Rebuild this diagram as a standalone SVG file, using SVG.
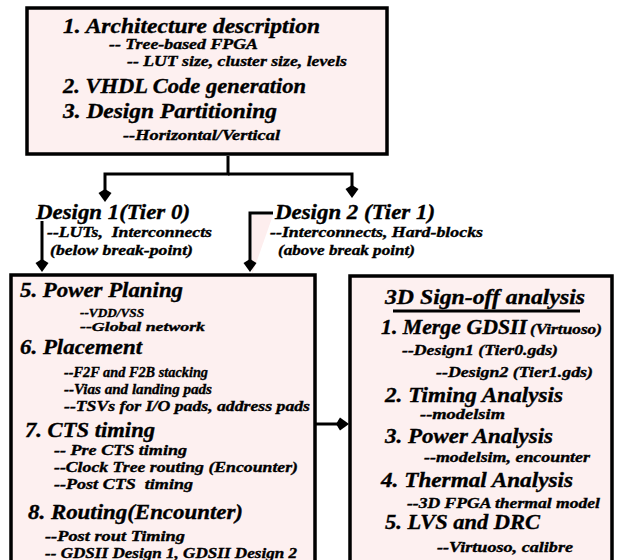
<svg xmlns="http://www.w3.org/2000/svg" width="622" height="560" viewBox="0 0 622 560">
<style>
text{font-family:"Liberation Serif","DejaVu Serif",serif;font-weight:bold;font-style:italic;fill:#000;stroke:#000;stroke-width:0.35;white-space:pre}
.h{font-size:20px}
.s{font-size:14px}
.ss{font-size:12.5px}
.t{font-size:20.5px}
.box{fill:#fdf0f0;stroke:#000;stroke-width:3.5}
.c{fill:none;stroke:#000;stroke-width:3;stroke-linejoin:miter}
</style>
<defs>
<marker id="ah" markerUnits="userSpaceOnUse" markerWidth="20" markerHeight="20" refX="4" refY="7" orient="auto" overflow="visible">
<path d="M0,7 L4,0.5 L13,7 L4,13.5 Z" fill="#000"/>
</marker>
</defs>
<g id="top">
<rect class="box" x="27" y="8" width="360" height="146"/>
<text class="h" x="63" y="33" textLength="257" lengthAdjust="spacingAndGlyphs">1. Architecture description</text>
<text class="s" x="109" y="49" textLength="149" lengthAdjust="spacingAndGlyphs">-- Tree-based FPGA</text>
<text class="s" x="127" y="66" textLength="220" lengthAdjust="spacingAndGlyphs">-- LUT size, cluster size, levels</text>
<text class="h" x="63" y="93" textLength="243" lengthAdjust="spacingAndGlyphs">2. VHDL Code generation</text>
<text class="h" x="63" y="118" textLength="214" lengthAdjust="spacingAndGlyphs">3. Design Partitioning</text>
<text class="s" x="123" y="140" textLength="157" lengthAdjust="spacingAndGlyphs">--Horizontal/Vertical</text>
</g>
<g id="design1">
<text class="h" x="36" y="219" textLength="154" lengthAdjust="spacingAndGlyphs">Design 1(Tier 0)</text>
<text class="s" x="47" y="237" textLength="165" lengthAdjust="spacingAndGlyphs">--LUTs,  Interconnects</text>
<text class="s" x="50" y="255" textLength="143" lengthAdjust="spacingAndGlyphs">(below break-point)</text>
</g>
<g id="design2">
<polygon points="252,215 273,215 252,275" fill="#fdeeee"/>
<text class="h" x="275" y="219" textLength="160" lengthAdjust="spacingAndGlyphs">Design 2 (Tier 1)</text>
<text class="s" x="270" y="237" textLength="213" lengthAdjust="spacingAndGlyphs">--Interconnects, Hard-blocks</text>
<text class="s" x="278" y="255" textLength="137" lengthAdjust="spacingAndGlyphs">(above break point)</text>
</g>
<g id="flow">
<rect class="box" x="11" y="275" width="304" height="300"/>
<text class="h" x="20" y="297" textLength="163" lengthAdjust="spacingAndGlyphs">5. Power Planing</text>
<text class="ss" x="80" y="317" textLength="64" lengthAdjust="spacingAndGlyphs">--VDD/VSS</text>
<text class="ss" x="80" y="331" textLength="125" lengthAdjust="spacingAndGlyphs">--Global network</text>
<text class="h" x="20" y="354" textLength="122" lengthAdjust="spacingAndGlyphs">6. Placement</text>
<text class="s" x="64" y="377" textLength="144" lengthAdjust="spacingAndGlyphs">--F2F and F2B stacking</text>
<text class="s" x="64" y="394" textLength="148" lengthAdjust="spacingAndGlyphs">--Vias and landing pads</text>
<text class="s" x="64" y="411" textLength="246" lengthAdjust="spacingAndGlyphs">--TSVs for I/O pads, address pads</text>
<text class="h" x="25" y="437" textLength="130" lengthAdjust="spacingAndGlyphs">7. CTS timing</text>
<text class="s" x="54" y="455" textLength="133" lengthAdjust="spacingAndGlyphs">-- Pre CTS timing</text>
<text class="s" x="54" y="472" textLength="244" lengthAdjust="spacingAndGlyphs">--Clock Tree routing (Encounter)</text>
<text class="s" x="54" y="489" textLength="139" lengthAdjust="spacingAndGlyphs">--Post CTS  timing</text>
<text class="h" x="28" y="519" textLength="215" lengthAdjust="spacingAndGlyphs">8. Routing(Encounter)</text>
<text class="s" x="45" y="541" textLength="140" lengthAdjust="spacingAndGlyphs">--Post rout Timing</text>
<text class="s" x="45" y="558" textLength="252" lengthAdjust="spacingAndGlyphs">-- GDSII Design 1, GDSII Design 2</text>
</g>
<g id="signoff">
<rect class="box" x="350" y="276" width="262" height="300"/>
<text class="t" x="385" y="304" textLength="200" lengthAdjust="spacingAndGlyphs">3D Sign-off analysis</text>
<line x1="393" y1="311" x2="580" y2="311" stroke="#000" stroke-width="3"/>
<text class="h" x="381" y="334" textLength="146" lengthAdjust="spacingAndGlyphs">1. Merge GDSII</text>
<text class="s" x="530" y="334" textLength="72" lengthAdjust="spacingAndGlyphs">(Virtuoso)</text>
<text class="s" x="402" y="355" textLength="156" lengthAdjust="spacingAndGlyphs">--Design1 (Tier0.gds)</text>
<text class="s" x="436" y="377" textLength="157" lengthAdjust="spacingAndGlyphs">--Design2 (Tier1.gds)</text>
<text class="h" x="385" y="402" textLength="178" lengthAdjust="spacingAndGlyphs">2. Timing Analysis</text>
<text class="s" x="420" y="419" textLength="85" lengthAdjust="spacingAndGlyphs">--modelsim</text>
<text class="h" x="385" y="443" textLength="168" lengthAdjust="spacingAndGlyphs">3. Power Analysis</text>
<text class="s" x="424" y="462" textLength="166" lengthAdjust="spacingAndGlyphs">--modelsim, encounter</text>
<text class="h" x="381" y="487" textLength="192" lengthAdjust="spacingAndGlyphs">4. Thermal Analysis</text>
<text class="s" x="407" y="508" textLength="193" lengthAdjust="spacingAndGlyphs">--3D FPGA thermal model</text>
<text class="h" x="385" y="529" textLength="155" lengthAdjust="spacingAndGlyphs">5. LVS and DRC</text>
<text class="s" x="437" y="552" textLength="136" lengthAdjust="spacingAndGlyphs">--Virtuoso, calibre</text>
</g>
<g id="connectors">
<path class="c" d="M228,156 V174 H105 V193" marker-end="url(#ah)"/>
<path class="c" d="M228,174 H352 V189" marker-end="url(#ah)"/>
<path class="c" d="M42,221 V263" marker-end="url(#ah)"/>
<path class="c" d="M273,213 H250 V263" marker-end="url(#ah)"/>
<path class="c" d="M316,424 H340" marker-end="url(#ah)"/>
</g>
</svg>
